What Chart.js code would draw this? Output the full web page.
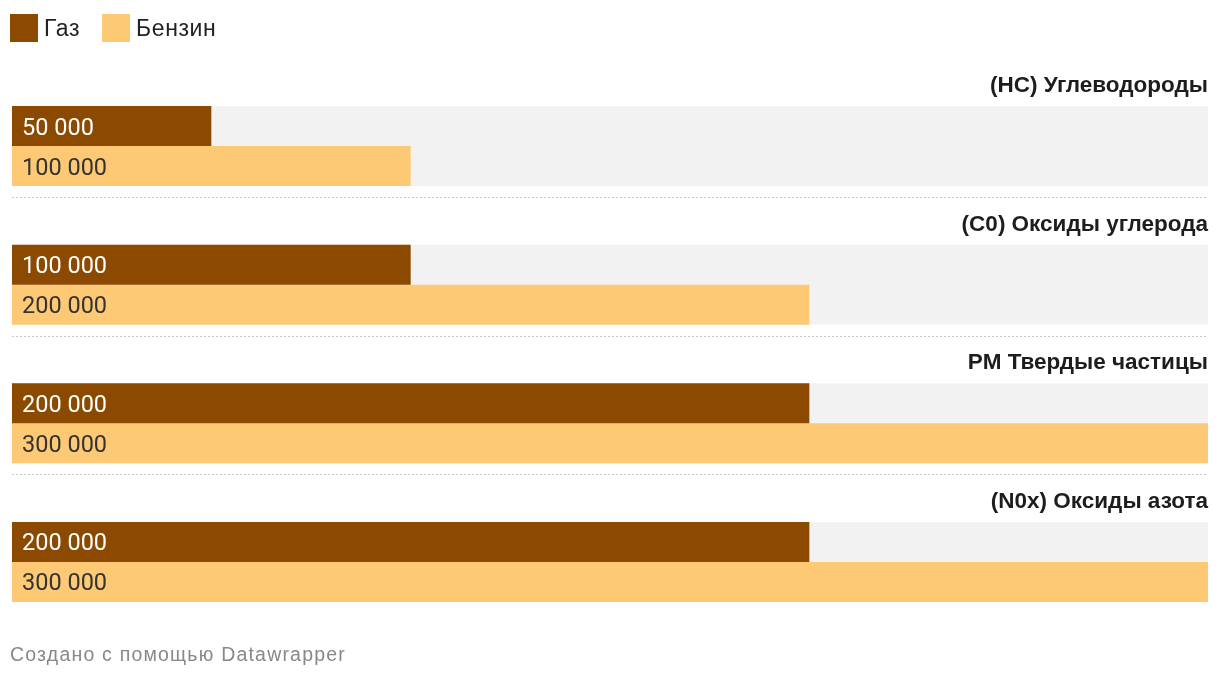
<!DOCTYPE html>
<html>
<head>
<meta charset="utf-8">
<script src="https://cdn.jsdelivr.net/npm/chart.js@4/dist/chart.umd.min.js"></script>
<style>
  html, body { margin: 0; padding: 0; background: #fff; }
  #chart { display: block; }
</style>
</head>
<body>
<canvas id="chart" width="1220" height="678"></canvas>
<script>
var categorias = ['(HC) Углеводороды', '(C0) Оксиды углерода', 'PM Твердые частицы', '(N0x) Оксиды азота'];
var series = ['Газ', 'Бензин'];
var gaz = [50000, 100000, 200000, 200000];
var benzin = [100000, 200000, 300000, 300000];
var escalaMax = 300000;
var rodape = 'Создано с помощью Datawrapper';

var cores = ['#8b4a00', '#fdc974'];

function formatar(v) {
    return String(v).replace(/\B(?=(\d{3})+(?!\d))/g, ' ');
}

// fundo cinza, titulos, linhas pontilhadas, valores, legenda e rodape
var extrasPlugin = {
    id: 'extras',
    beforeDatasetsDraw: function (chart) {
        var ctx = chart.ctx, area = chart.chartArea;
        var m0 = chart.getDatasetMeta(0), m1 = chart.getDatasetMeta(1);
        ctx.save();
        for (var i = 0; i < categorias.length; i++) {
            var b0 = m0.data[i], b1 = m1.data[i];
            var topo = Math.min(b0.y - b0.height / 2, b1.y - b1.height / 2);
            var base = Math.max(b0.y + b0.height / 2, b1.y + b1.height / 2);
            ctx.fillStyle = '#f2f2f2';
            ctx.fillRect(area.left, topo, area.right - area.left, base - topo);

            ctx.fillStyle = '#1d1d1d';
            ctx.font = 'bold 22.5px "Liberation Sans", Arial, sans-serif';
            ctx.textAlign = 'right';
            ctx.textBaseline = 'alphabetic';
            ctx.fillText(categorias[i], area.right, topo - 14);

            if (i < categorias.length - 1) {
                var yl = Math.round(base + 11) + 0.5;
                ctx.strokeStyle = '#c8c8c8';
                ctx.lineWidth = 1;
                ctx.setLineDash([2, 2]);
                ctx.beginPath();
                ctx.moveTo(area.left, yl);
                ctx.lineTo(area.right, yl);
                ctx.stroke();
                ctx.setLineDash([]);
            }
        }
        ctx.restore();
    },
    afterDatasetsDraw: function (chart) {
        var ctx = chart.ctx;
        ctx.save();
        ctx.font = '23.5px Roboto, sans-serif';
        ctx.textAlign = 'left';
        ctx.textBaseline = 'alphabetic';
        chart.data.datasets.forEach(function (ds, d) {
            var meta = chart.getDatasetMeta(d);
            meta.data.forEach(function (bar, i) {
                ctx.fillStyle = d == 0 ? '#ffffff' : '#333333';
                ctx.fillText(formatar(ds.data[i]), bar.base + 10, bar.y + 8.5);
            });
        });
        ctx.restore();
    },
    afterDraw: function (chart) {
        var ctx = chart.ctx, x = 10;
        ctx.save();
        // legenda
        ctx.font = '23px "Liberation Sans", Arial, sans-serif';
        ctx.letterSpacing = '0.6px';
        ctx.textAlign = 'left';
        ctx.textBaseline = 'alphabetic';
        chart.data.datasets.forEach(function (ds) {
            ctx.fillStyle = ds.backgroundColor;
            ctx.fillRect(x, 14, 28, 28);
            ctx.fillStyle = '#222222';
            ctx.fillText(ds.label, x + 34, 36);
            x += 34 + ctx.measureText(ds.label).width + 22;
        });
        // rodape
        ctx.font = '19.5px "Liberation Sans", Arial, sans-serif';
        ctx.letterSpacing = '1.2px';
        ctx.fillStyle = '#888888';
        ctx.fillText(rodape, 10, 661);
        ctx.restore();
    }
};

var ctx = document.getElementById('chart').getContext('2d');
var chart = new Chart(ctx, {
    type: 'bar',
    data: {
        labels: categorias,
        datasets: [{
            label: series[0],
            data: gaz,
            backgroundColor: cores[0],
            borderWidth: 0
        }, {
            label: series[1],
            data: benzin,
            backgroundColor: cores[1],
            borderWidth: 0
        }]
    },
    options: {
        indexAxis: 'y',
        responsive: false,
        animation: false,
        layout: { padding: { left: 12, right: 12, top: 76.7, bottom: 46.7 } },
        datasets: { bar: { categoryPercentage: 0.577, barPercentage: 1 } },
        scales: {
            x: { display: false, min: 0, max: escalaMax },
            y: { display: false }
        },
        plugins: {
            legend: { display: false },
            tooltip: { enabled: false }
        }
    },
    plugins: [extrasPlugin]
});
</script>
</body>
</html>
